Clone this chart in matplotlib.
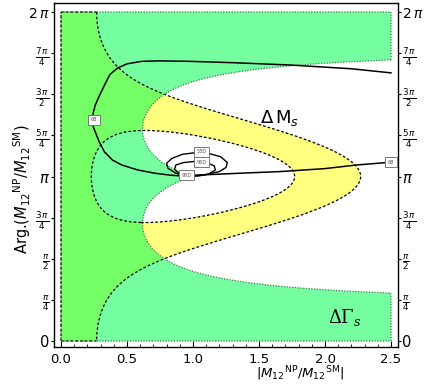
import numpy as np
import matplotlib
matplotlib.use('Agg')
import matplotlib.pyplot as plt

# constraint values
dms_range = [0.77, 1.27]      # allowed |1 + M12NP/M12SM|  (Delta M_s)
dgs_phase_max = 0.665         # allowed |arg(1 + M12NP/M12SM)|  (Delta Gamma_s)
x_max = 2.5

# fit contour lines, x = |M12NP/M12SM|, y in units of pi
c68_x = [2.50, 2.20, 1.73, 1.30, 0.98, 0.75, 0.61, 0.50, 0.43, 0.37, 0.33, 0.29, 0.26,
         0.245, 0.24, 0.245, 0.26, 0.29, 0.33, 0.39, 0.46, 0.58, 0.71, 0.83, 0.92, 0.955,
         1.02, 1.30, 1.66, 2.00, 2.24, 2.47]
c68_y = [1.63, 1.655, 1.678, 1.692, 1.70, 1.703, 1.70, 1.685, 1.66, 1.62, 1.556, 1.49, 1.435,
         1.39, 1.343, 1.30, 1.27, 1.21, 1.149, 1.10, 1.07, 1.04, 1.02, 1.008, 1.003, 1.0,
         1.008, 1.018, 1.03, 1.048, 1.07, 1.085]
e58_x = [0.955, 0.87, 0.81, 0.80, 0.84, 0.92, 1.02, 1.12, 1.21, 1.26, 1.25, 1.20, 1.10, 1.00, 0.955]
e58_y = [1.0, 1.02, 1.05, 1.08, 1.11, 1.135, 1.145, 1.14, 1.12, 1.085, 1.055, 1.03, 1.012, 1.003, 1.0]
e95_x = [0.955, 0.89, 0.86, 0.87, 0.93, 1.02, 1.10, 1.16, 1.17, 1.12, 1.04, 0.955]
e95_y = [1.0, 1.02, 1.045, 1.07, 1.085, 1.092, 1.085, 1.065, 1.04, 1.015, 1.003, 1.0]

label_text = ["68", "68", "58D", "95D", "95D"]
label_x = [0.25, 2.50, 1.064, 1.064, 0.95]
label_y = [1.344, 1.088, 1.149, 1.088, 1.009]

ytick_vals = [0, 0.25, 0.5, 0.75, 1, 1.25, 1.5, 1.75, 2]
ytick_text = ["0", r"$\frac{\pi}{4}$", r"$\frac{\pi}{2}$", r"$\frac{3\,\pi}{4}$", r"$\pi$",
              r"$\frac{5\,\pi}{4}$", r"$\frac{3\,\pi}{2}$", r"$\frac{7\,\pi}{4}$", r"$2\,\pi$"]
ytick_size = [10.5, 9, 9, 9, 10.5, 9, 9, 9, 10]

yellow = '#ffff80'
green = '#00ff50'
green_alpha = 0.54

def dms_ok(r, phi):
    m = np.abs(1 + r * np.exp(1j * phi))
    return (m > dms_range[0]) & (m < dms_range[1])

def dgs_ok(r, phi):
    return np.abs(np.angle(1 + r * np.exp(1j * phi))) < dgs_phase_max

fig = plt.figure(figsize=(4.25, 3.88), dpi=100)
ax = fig.add_axes([54/425, 41/388, 344/425, 344/388])

xs = np.linspace(0, x_max, 1200)
ys = np.linspace(0, 2*np.pi, 1200)
X, Y = np.meshgrid(xs, ys)
Z = 1 + X * np.exp(1j * Y)
mod = np.abs(Z)
absarg = np.abs(np.angle(Z))

# Delta M_s region
ax.contourf(X, Y, mod, levels=dms_range, colors=[yellow], antialiased=True)
ax.contour(X, Y, mod, levels=dms_range, colors='k', linewidths=0.9,
           linestyles=[(0, (2.2, 1.6))])
dash = dict(color='k', lw=0.9, ls=(0, (2.2, 1.6)))
for yy in [0, 2*np.pi]:
    m = dms_ok(xs, yy)
    ax.plot(np.where(m, xs, np.nan), np.full_like(xs, yy), **dash)
ax.plot(np.zeros_like(ys), np.where(dms_ok(0.0, ys), ys, np.nan), **dash)

# Delta Gamma_s region
ax.contourf(X, Y, absarg, levels=[0, dgs_phase_max], colors=[green], alpha=green_alpha,
            antialiased=True)
ax.contour(X, Y, absarg, levels=[dgs_phase_max], colors='#3d7a4a', linewidths=0.9,
           linestyles=[(0, (1, 1.2))])
dot = dict(color='#4d6a55', lw=0.9, ls=(0, (1, 1.2)))
for yy in [0, 2*np.pi]:
    m = dgs_ok(xs, yy)
    ax.plot(np.where(m, xs, np.nan), np.full_like(xs, yy), **dot)
for xx in [0.0, x_max]:
    m = dgs_ok(xx, ys)
    ax.plot(np.full_like(ys, xx), np.where(m, ys, np.nan), **dot)

# fit contours
ax.plot(c68_x, np.array(c68_y) * np.pi, color='k', lw=1.1)
ax.plot(e58_x, np.array(e58_y) * np.pi, color='k', lw=1.0)
ax.plot(e95_x, np.array(e95_y) * np.pi, color='k', lw=1.0)
for t, lx, ly in zip(label_text, label_x, label_y):
    ax.text(lx, ly * np.pi, t, fontsize=3.6, color='#555555', ha='center', va='center',
            bbox=dict(boxstyle='square,pad=0.5', fc='white', ec='#777777', lw=0.7))

ax.text(1.66, 4.26, r"$\Delta\,\mathrm{M}_s$", fontsize=13, ha='center', va='center')
ax.text(2.15, 0.44, r"$\Delta\Gamma_s$", fontsize=13, ha='center', va='center',
        math_fontfamily='dejavuserif')

ax.set_xlim(-0.053, 2.553)
ax.set_ylim(-0.1146, 2*np.pi + 0.172)
ax.set_xticks(np.arange(0, 2.51, 0.5))
ax.set_xticks(np.arange(0, 2.51, 0.1), minor=True)
ax.set_xticklabels(["0.0", "0.5", "1.0", "1.5", "2.0", "2.5"], fontsize=9.5)
ax.tick_params(axis='x', which='major', direction='in', length=4, width=0.8, pad=4)
ax.tick_params(axis='x', which='minor', direction='in', length=2, width=0.6)
ax.set_yticks(np.array(ytick_vals) * np.pi)
ax.set_yticklabels(ytick_text)
ax.tick_params(axis='y', which='major', direction='out', length=2, width=0.8, pad=1,
               right=True, labelright=True)
for tk, sz in zip(ax.yaxis.get_major_ticks(), ytick_size):
    tk.label1.set_fontsize(sz)
    tk.label2.set_fontsize(sz)
for sp in ax.spines.values():
    sp.set_linewidth(1.0)

ax.set_xlabel(r"$|M_{12}{}^{\mathrm{NP}}/M_{12}{}^{\mathrm{SM}}|$", fontsize=9.5)
ax.xaxis.set_label_coords(0.715, -0.052)
ax.set_ylabel(r"Arg.$(M_{12}{}^{\mathrm{NP}}/M_{12}{}^{\mathrm{SM}})$", fontsize=10.5)
ax.yaxis.set_label_coords(-0.062, 0.46)

fig.savefig('out.png', dpi=100)
